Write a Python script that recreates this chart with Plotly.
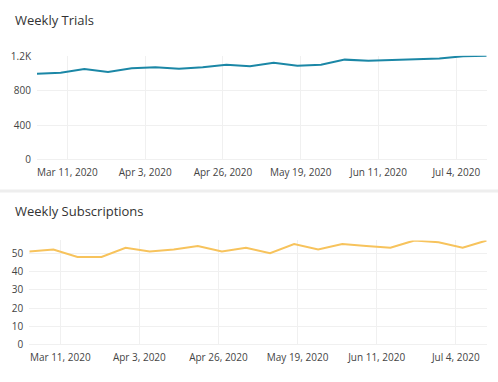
import plotly.graph_objects as go
import pandas as pd

# ---- data ----
week_start = "2020-03-02"
n_weeks = 20
weeks = pd.date_range(week_start, periods=n_weeks, freq="7D")

trials = [998, 1009, 1050, 1018, 1061, 1072, 1053, 1072, 1101, 1083,
          1123, 1090, 1101, 1160, 1146, 1155, 1165, 1172, 1198, 1206]
subscriptions = [51, 52, 48, 48, 53, 51, 52, 54, 51, 53,
                 50, 55, 52, 55, 54, 53, 57, 56, 53, 57]

x_tick_dates = ["2020-03-11", "2020-04-03", "2020-04-26", "2020-05-19",
                "2020-06-11", "2020-07-04"]
trials_ticks = [0, 400, 800, 1200]
trials_ticktext = ["0", "400", "800", "1.2K"]
subs_ticks = [0, 10, 20, 30, 40, 50]

titles = ["Weekly Trials", "Weekly Subscriptions"]

# ---- figure ----
W, H = 498, 382
FONT = "Open Sans"
TICK_COLOR = "#444444"
GRID = "#f0f0f0"

def px_x(p):
    return p / W

def px_y(p):
    return 1 - p / H

fig = go.Figure()
fig.add_trace(go.Scatter(x=weeks, y=trials, mode="lines",
                         line=dict(color="#1b87a6", width=2),
                         xaxis="x", yaxis="y", hoverinfo="x+y"))
fig.add_trace(go.Scatter(x=weeks, y=subscriptions, mode="lines",
                         line=dict(color="#f7c35c", width=2),
                         xaxis="x2", yaxis="y2", hoverinfo="x+y"))

xcommon = dict(tickvals=x_tick_dates, tickformat="%b %-d, %Y",
               showgrid=True, gridcolor=GRID, zeroline=False,
               showline=False, ticks="outside", ticklen=3,
               tickcolor="rgba(0,0,0,0)",
               tickfont=dict(family=FONT, size=10, color=TICK_COLOR))
ycommon = dict(showgrid=True, gridcolor=GRID, zeroline=True,
               zerolinecolor=GRID, zerolinewidth=1, showline=False,
               ticks="outside", ticklen=3, tickcolor="rgba(0,0,0,0)",
               tickfont=dict(family=FONT, size=10, color=TICK_COLOR))

fig.update_layout(
    width=W, height=H,
    margin=dict(l=0, r=0, t=0, b=0),
    paper_bgcolor="white", plot_bgcolor="white",
    showlegend=False,
    font=dict(family=FONT, color="#333333"),
    xaxis=dict(domain=[px_x(37), px_x(486.7)], anchor="y", **xcommon),
    yaxis=dict(domain=[px_y(158.7), px_y(50.5)], anchor="x",
               range=[0, max(trials)], tickvals=trials_ticks,
               ticktext=trials_ticktext, **ycommon),
    xaxis2=dict(domain=[px_x(29.3), px_x(486.7)], anchor="y2", **xcommon),
    yaxis2=dict(domain=[px_y(350.7), px_y(242.3)], anchor="x2",
                range=[0, max(subscriptions)], tickvals=subs_ticks, **ycommon),
    shapes=[dict(type="rect", xref="paper", yref="paper",
                 x0=0, x1=1, y0=px_y(192.5), y1=px_y(189.5),
                 fillcolor="#eeeeee", line=dict(width=0), layer="below")],
    annotations=[
        dict(text=titles[0], xref="paper", yref="paper", x=px_x(12.5),
             y=px_y(14), xanchor="left", yanchor="middle", showarrow=False,
             font=dict(family=FONT, size=13, color="#333333")),
        dict(text=titles[1], xref="paper", yref="paper", x=px_x(12.5),
             y=px_y(211.7), xanchor="left", yanchor="middle", showarrow=False,
             font=dict(family=FONT, size=13, color="#333333")),
    ],
)

fig.write_html("out.html", config={"displayModeBar": False},
               post_script="document.body.style.margin='0';"
                           "document.body.style.overflow='hidden';")
